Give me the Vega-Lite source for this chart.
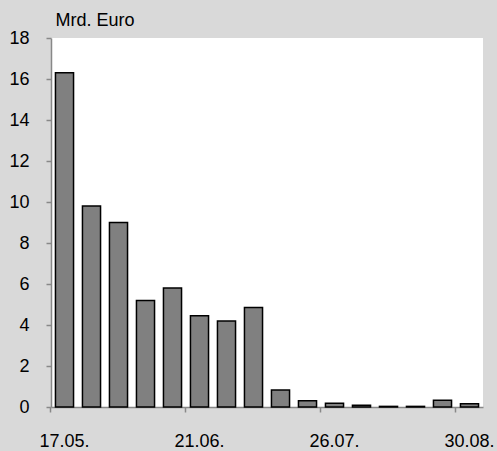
{
  "$schema": "https://vega.github.io/schema/vega-lite/v6.json",
  "width": 432,
  "height": 369,
  "autosize": "none",
  "padding": {"left": 51, "top": 38, "right": 14, "bottom": 44},
  "background": "#d9d9d9",
  "config": {
    "view": {"fill": "white", "stroke": null},
    "font": "Liberation Sans",
    "axis": {"labelFont": "Liberation Sans", "titleFont": "Liberation Sans", "labelColor": "black", "titleColor": "black"}
  },
  "data": {
    "values": [
      {"date": "17.05.", "value": 16.3},
      {"date": "24.05.", "value": 9.8},
      {"date": "31.05.", "value": 9.0},
      {"date": "07.06.", "value": 5.2},
      {"date": "14.06.", "value": 5.8},
      {"date": "21.06.", "value": 4.45},
      {"date": "28.06.", "value": 4.2},
      {"date": "05.07.", "value": 4.85},
      {"date": "12.07.", "value": 0.83},
      {"date": "19.07.", "value": 0.3},
      {"date": "26.07.", "value": 0.18},
      {"date": "02.08.", "value": 0.08},
      {"date": "09.08.", "value": 0.03},
      {"date": "16.08.", "value": 0.03},
      {"date": "23.08.", "value": 0.33},
      {"date": "30.08.", "value": 0.16}
    ]
  },
  "mark": {"type": "bar", "fill": "#808080", "stroke": "black", "strokeWidth": 1.5},
  "encoding": {
    "x": {
      "field": "date",
      "type": "ordinal",
      "sort": null,
      "scale": {"paddingInner": 0.33, "paddingOuter": 0.165},
      "axis": {
        "title": null,
        "values": ["17.05.", "21.06.", "26.07.", "30.08."],
        "bandPosition": -0.25,
        "labelAngle": 0,
        "labelFontSize": 18,
        "labelPadding": 20,
        "labelBaseline": "top",
        "domainColor": "#888888",
        "domainWidth": 1.5,
        "tickColor": "#888888",
        "tickWidth": 1.5,
        "tickSize": 5
      }
    },
    "y": {
      "field": "value",
      "type": "quantitative",
      "scale": {"domain": [0, 18], "nice": false},
      "axis": {
        "values": [0, 2, 4, 6, 8, 10, 12, 14, 16, 18],
        "grid": false,
        "title": "Mrd. Euro",
        "titleAngle": 0,
        "titleAlign": "left",
        "titleBaseline": "alphabetic",
        "titleX": 4,
        "titleY": -13,
        "titleFontSize": 18,
        "titleFontWeight": "normal",
        "labelFontSize": 18,
        "labelPadding": 17,
        "domainColor": "#888888",
        "domainWidth": 1.5,
        "tickColor": "#888888",
        "tickWidth": 1.5,
        "tickSize": 5
      }
    }
  }
}
